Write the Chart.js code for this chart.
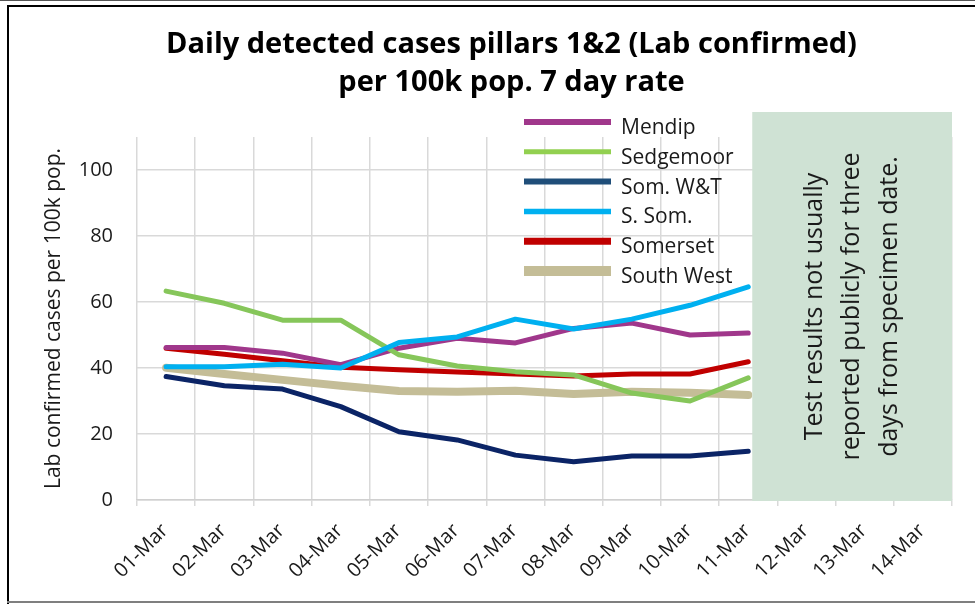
<!DOCTYPE html>
<html><head><meta charset="utf-8">
<script src="https://cdn.jsdelivr.net/npm/chart.js@4"></script>
<style>html,body{margin:0;padding:0;background:#fff;} canvas{display:block;}</style>
</head><body>
<canvas id="c" width="975" height="604"></canvas>
<script>
const categories = ['01-Mar','02-Mar','03-Mar','04-Mar','05-Mar','06-Mar','07-Mar','08-Mar','09-Mar','10-Mar','11-Mar','12-Mar','13-Mar','14-Mar'];
const mendip    = [46.2, 46.2, 44.5, 41.0, 46.0, 49.0, 47.6, 52.0, 53.6, 50.0, 50.6];
const sedgemoor = [63.3, 59.6, 54.5, 54.5, 44.0, 40.6, 38.9, 37.9, 32.4, 30.0, 37.0];
const somWT     = [37.4, 34.6, 33.6, 28.3, 20.7, 18.2, 13.6, 11.6, 13.3, 13.3, 14.8];
const sSom      = [40.4, 40.4, 41.1, 40.0, 47.7, 49.4, 54.8, 51.8, 54.8, 59.0, 64.6];
const somerset  = [46.0, 44.2, 42.2, 40.2, 39.5, 38.8, 38.2, 37.6, 38.2, 38.2, 41.9];
const southWest = [40.1, 38.2, 36.4, 34.6, 33.0, 32.8, 33.1, 32.1, 32.8, 32.5, 31.8];
const seriesNames = ['Mendip','Sedgemoor','Som. W&T','S. Som.','Somerset','South West'];
const titleLines = ['Daily detected cases pillars 1&2 (Lab confirmed)','per 100k pop. 7 day rate'];
const yAxisTitle = 'Lab confirmed cases per 100k pop.';
const noteLines = ['Test results not usually','reported publicly for three','days from specimen date.'];
const lastReportedIndex = 10;

const FONT = "'Open Sans', 'DejaVu Sans', sans-serif";
const TXT = '#1a1a1a';

function ds(label, data, color, width, order, legendWidth) {
  return {label, data, borderColor: color, backgroundColor: color, borderWidth: width,
    order, legendWidth, pointRadius: 0, tension: 0, borderJoinStyle: 'round', borderCapStyle: 'round', fill: false};
}

const datasets = [
  ds(seriesNames[0], mendip,    '#a0378b', 5, 2, 6),
  ds(seriesNames[1], sedgemoor, '#86c65a', 5, 1, 5),
  ds(seriesNames[2], somWT,     '#0b2466', 5, 4, 6),
  ds(seriesNames[3], sSom,      '#00b0f0', 5, 0, 5.5),
  ds(seriesNames[4], somerset,  '#c00000', 5, 3, 7),
  ds(seriesNames[5], southWest, '#c4bd97', 8, 5, 10)
];
const legendColors = ['#a0378b','#92d050','#1f4e79','#00b0f0','#c00000','#c4bd97'];

const framePlugin = {
  id: 'frame',
  beforeDraw(chart) {
    const c = chart.ctx;
    c.save(); c.fillStyle = '#fff'; c.fillRect(0, 0, chart.width, chart.height); c.restore();
  },
  afterDraw(chart) {
    const c = chart.ctx;
    c.save();
    c.fillStyle = '#555'; c.fillRect(0, 0, chart.width, 1);
    c.fillStyle = '#000';
    c.fillRect(7, 5, chart.width - 7, 2);
    c.fillRect(7, 5, 2, chart.height - 5);
    c.fillStyle = '#7f7f7f';
    c.fillRect(7, chart.height - 3, chart.width - 7, 2);
    c.restore();
  }
};

const notePlugin = {
  id: 'note',
  afterDatasetsDraw(chart) {
    const c = chart.ctx, xs = chart.scales.x, a = chart.chartArea;
    const x0 = xs.getPixelForValue(lastReportedIndex) + 4;
    const x1 = a.right;
    const y0 = a.top - 25, y1 = a.bottom + 1;
    c.save();
    c.fillStyle = '#cfe2d4';
    c.fillRect(x0, y0, x1 - x0, y1 - y0);
    c.translate((x0 + x1) / 2, (y0 + y1) / 2);
    c.rotate(-Math.PI / 2);
    c.fillStyle = TXT;
    c.font = "25px " + FONT;
    c.textAlign = 'center'; c.textBaseline = 'middle';
    const lh = 37.5;
    noteLines.forEach((t, i) => c.fillText(t, 0, (i - (noteLines.length - 1) / 2) * lh));
    c.restore();

    // legend
    c.save();
    const lx0 = a.left + 387, lx1 = a.left + 474, tx = a.left + 484;
    const ty0 = a.top - 9, step = 29.8;
    c.font = "21px " + FONT;
    c.textAlign = 'left'; c.textBaseline = 'middle';
    chart.data.datasets.forEach((d, i) => {
      const ty = ty0 + i * step;
      c.strokeStyle = legendColors[i];
      c.lineWidth = d.legendWidth;
      c.lineCap = 'butt';
      c.beginPath(); c.moveTo(lx0, ty - 6); c.lineTo(lx1, ty - 6); c.stroke();
      c.fillStyle = TXT;
      c.fillText(d.label, tx, ty);
    });
    c.restore();
  }
};

new Chart(document.getElementById('c'), {
  type: 'line',
  data: {labels: categories, datasets},
  options: {
    responsive: false, animation: false, devicePixelRatio: 1,
    layout: {padding: {left: 71, right: 23, top: 8, bottom: 0}},
    plugins: {
      legend: {display: false},
      tooltip: {enabled: false},
      title: {display: true, text: titleLines, color: '#000',
        font: {family: FONT, size: 29, weight: 'bold', lineHeight: 1.3},
        padding: {top: 18, bottom: 35.6}}
    },
    scales: {
      x: {
        offset: true,
        grid: {offset: true, color: '#d9d9d9', lineWidth: 1.5, tickLength: 6, drawTicks: true},
        border: {color: '#d0d0d0', width: 1.5},
        ticks: {minRotation: 45, maxRotation: 45, autoSkip: false, padding: 13, labelOffset: -1,
          font: {family: FONT, size: 20}, color: TXT},
        afterFit(s) { s.height = 104; }
      },
      y: {
        min: 0, max: 110,
        ticks: {stepSize: 20, includeBounds: false, padding: 24, font: {family: FONT, size: 20}, color: TXT},
        grid: {color: '#d9d9d9', lineWidth: 1.5, drawTicks: false},
        border: {display: false},
        title: {display: true, text: yAxisTitle, color: TXT, font: {family: FONT, size: 21},
          padding: {top: -29.6, bottom: 0}},
        afterFit(s) { s.width = 66; }
      }
    }
  },
  plugins: [framePlugin, notePlugin]
});
</script>
</body></html>
